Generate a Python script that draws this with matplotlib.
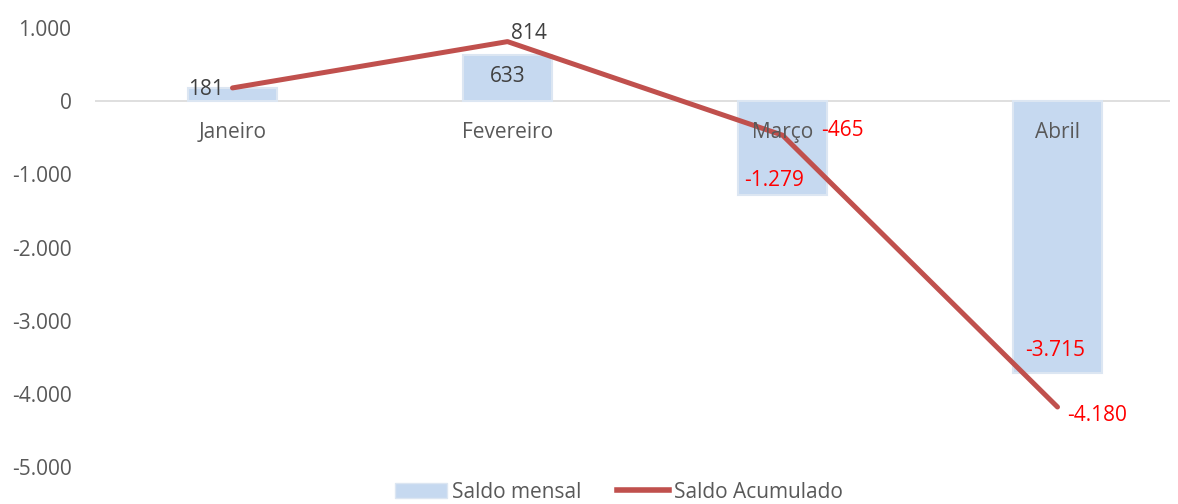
import matplotlib
matplotlib.use("Agg")
import matplotlib.pyplot as plt
from matplotlib.lines import Line2D
from matplotlib.patches import Patch

categories = ["Janeiro", "Fevereiro", "Março", "Abril"]
saldo_mensal = [181, 633, -1279, -3715]
saldo_acumulado = [181, 814, -465, -4180]
yticks = [1000, 0, -1000, -2000, -3000, -4000, -5000]

def fmt(v):
    return f"{v:,.0f}".replace(",", ".")

plt.rcParams['font.family'] = ['Open Sans', 'DejaVu Sans']
W, H = 1178, 504
fig = plt.figure(figsize=(W/100, H/100), dpi=100)
left, right = 95/W, 1170/W
bottom, top = (H-467)/H, (H-28)/H
ax = fig.add_axes([left, bottom, right-left, top-bottom])
xs = list(range(len(categories)))
ax.set_xlim(-0.5, -0.5 + (1170-95)/275)
ax.set_ylim(-5000, 1000)

bar_color = "#c6d9f0"
line_color = "#c0504d"
gray = "#595959"
dark = "#404040"
red = "#ff0000"
fs = 15

ax.bar(xs, saldo_mensal, width=0.325, color=bar_color, edgecolor="#dce6f2", linewidth=1.5, zorder=2)
ax.axhline(0, color="#d9d9d9", linewidth=1.2, zorder=1)
ax.plot(xs, saldo_acumulado, color=line_color, linewidth=3.6, solid_capstyle="round", zorder=3)

for s in ax.spines.values():
    s.set_visible(False)
ax.set_xticks([])
ax.set_yticks(yticks)
ax.set_yticklabels([fmt(v) for v in yticks], color=gray, fontsize=fs)
ax.tick_params(axis='y', length=0, pad=17)

for x, c in zip(xs, categories):
    ax.annotate(c, (x, 0), xytext=(0, -31), textcoords="offset pixels",
                ha="center", va="center", color=gray, fontsize=fs, zorder=4)

def lab(text, xy, off, color):
    ax.annotate(text, xy, xytext=off, textcoords="offset pixels",
                ha="center", va="center", color=color, fontsize=fs, zorder=5)

lab(fmt(saldo_acumulado[0]), (0, saldo_acumulado[0]), (-27, -2), dark)
lab(fmt(saldo_acumulado[1]), (1, saldo_acumulado[1]), (21, 8), dark)
lab(fmt(saldo_mensal[1]), (1, saldo_mensal[1] / 2), (0, 2), dark)
lab(fmt(saldo_acumulado[2]), (2, saldo_acumulado[2]), (60, 5), red)
lab(fmt(saldo_mensal[2]), (2, saldo_mensal[2]), (-8, 14), red)
lab(fmt(saldo_acumulado[3]), (3, saldo_acumulado[3]), (40, -8), red)
lab(fmt(saldo_mensal[3]), (3, saldo_mensal[3]), (-2, 22), red)

handles = [Patch(facecolor=bar_color, edgecolor="#dce6f2"),
           Line2D([0], [0], color=line_color, linewidth=4)]
fig.legend(handles, ["Saldo mensal", "Saldo Acumulado"], loc="center", bbox_to_anchor=(619/W, 12/H),
           ncol=2, frameon=False, fontsize=fs, labelcolor=gray, handlelength=2.5,
           handletextpad=0.24, columnspacing=1.7, borderpad=0)

fig.savefig("out.png", dpi=100)
